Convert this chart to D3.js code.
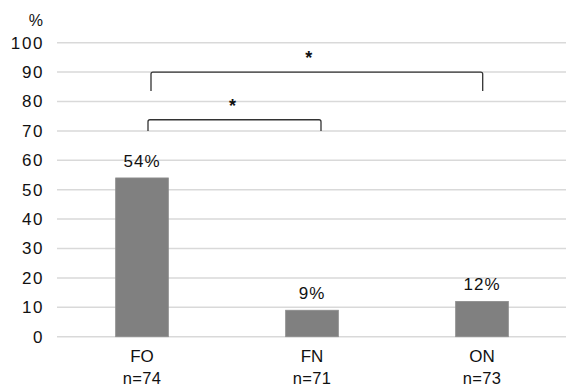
<!DOCTYPE html>
<html><head><meta charset="utf-8">
<script src="https://cdn.jsdelivr.net/npm/d3@7"></script>
<style>body{margin:0;background:#fff}svg{display:block}text{font-family:"Liberation Sans",Arial,Helvetica,sans-serif;fill:#111}</style>
</head><body><svg id="c" width="566" height="387"></svg>
<script>
const categories = ["FO","FN","ON"];
const nLabels = ["n=74","n=71","n=73"];
const values = [54, 9, 12];
const yTicks = [0,10,20,30,40,50,60,70,80,90,100];
const brackets = [
  {from:"FO", to:"ON", top:90, leg:83.6, label:"*"},
  {from:"FO", to:"FN", top:73.8, leg:70, label:"*"}
];

const svg = d3.select("#c");
const x = d3.scaleBand().domain(categories).range([57, 567]).paddingInner(0.69).paddingOuter(0.345);
const y = d3.scaleLinear().domain([0,100]).range([336.7, 42.7]);

// gridlines
svg.append("g").selectAll("line").data(yTicks).join("line")
  .attr("x1",57).attr("x2",566).attr("y1",d=>y(d)).attr("y2",d=>y(d))
  .attr("stroke","#d9d9d9").attr("stroke-width",1.5);

// y axis labels
const ya = svg.append("g").attr("transform","translate(44,0)")
  .call(d3.axisLeft(y).tickValues(yTicks).tickSize(0).tickPadding(0));
ya.select(".domain").remove();
ya.selectAll("text").attr("font-size",17).attr("fill","#111").attr("letter-spacing","1.6px")
  .style("font-family",'"Liberation Sans",Arial,sans-serif');
svg.append("text").attr("x",43).attr("y",26).attr("text-anchor","end").attr("font-size",16).text("%");

// bars
svg.append("g").selectAll("rect").data(values).join("rect")
  .attr("x",(d,i)=>x(categories[i])).attr("width",x.bandwidth())
  .attr("y",d=>y(d)).attr("height",d=>y(0)-y(d))
  .attr("fill","#808080").attr("stroke","#8c8c8c").attr("stroke-width",0.8);

// value labels
svg.append("g").selectAll("text").data(values).join("text")
  .attr("x",(d,i)=>x(categories[i])+x.bandwidth()/2).attr("y",d=>y(d)-11)
  .attr("text-anchor","middle").attr("font-size",17).attr("letter-spacing","1px").text(d=>d+"%");

// x labels
const xa = svg.append("g");
xa.selectAll("text.cat").data(categories).join("text").attr("class","cat")
  .attr("x",d=>x(d)+x.bandwidth()/2).attr("y",362).attr("text-anchor","middle").attr("font-size",17).text(d=>d);
xa.selectAll("text.n").data(nLabels).join("text").attr("class","n")
  .attr("x",(d,i)=>x(categories[i])+x.bandwidth()/2).attr("y",384).attr("text-anchor","middle").attr("font-size",16.5).attr("letter-spacing","0.3px").text(d=>d);

// brackets
const offs = [[9,0.7],[6,9]];
brackets.forEach((b,i)=>{
  const x1 = x(b.from)+x.bandwidth()/2+offs[i][0];
  const x2 = x(b.to)+x.bandwidth()/2+offs[i][1];
  const yt = y(b.top), yl = y(b.leg), r=2;
  svg.append("path")
    .attr("d",`M${x1},${yl} L${x1},${yt+r} Q${x1},${yt} ${x1+r},${yt} L${x2-r},${yt} Q${x2},${yt} ${x2},${yt+r} L${x2},${yl}`)
    .attr("fill","none").attr("stroke","#333").attr("stroke-width",1.3);
  svg.append("text").attr("x",(x1+x2)/2-(i===0?8:2)).attr("y",yt-8).attr("text-anchor","middle")
    .attr("font-size",18).attr("font-weight","bold").text(b.label);
});
</script></body></html>
